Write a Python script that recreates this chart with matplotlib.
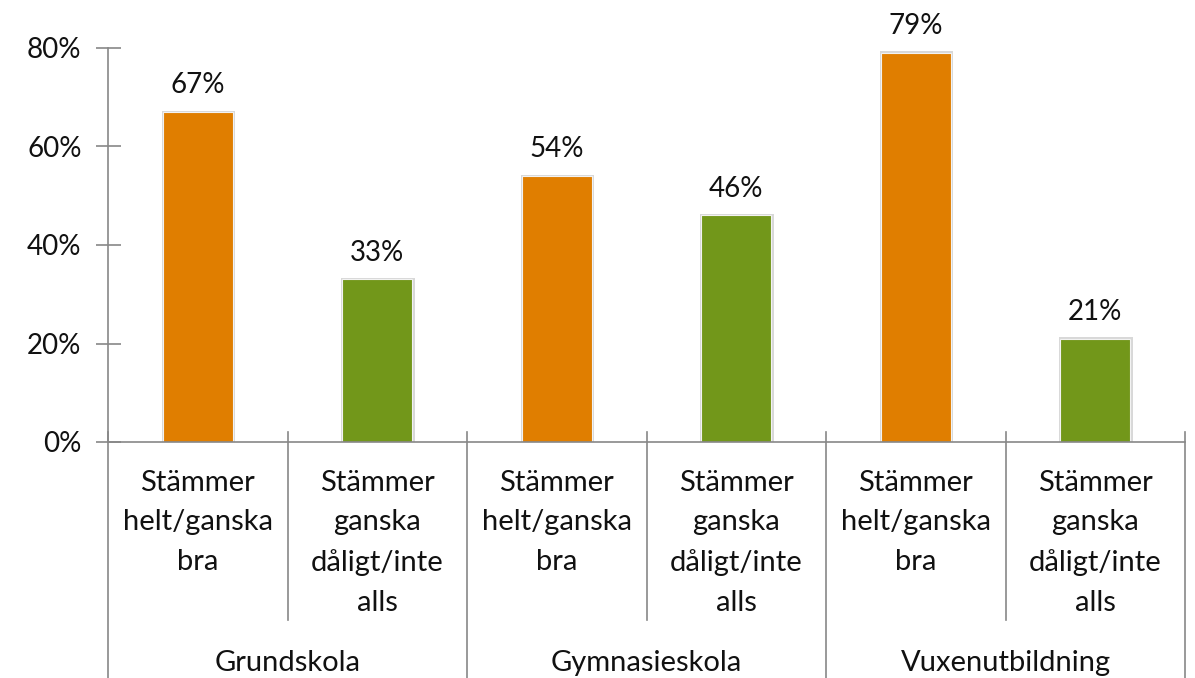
import matplotlib.pyplot as plt
from matplotlib.patches import Rectangle

plt.rcParams['font.family'] = ['Lato', 'DejaVu Sans']

# data
groups = ['Grundskola', 'Gymnasieskola', 'Vuxenutbildning']
answers = ['Stämmer\nhelt/ganska\nbra', 'Stämmer\nganska\ndåligt/inte\nalls']
values = [67, 33, 54, 46, 79, 21]
yticks = [0, 20, 40, 60, 80]
colors = ['#E07E00', '#72971A']
axis_col = '#878787'
fs = 21

fig = plt.figure(figsize=(11.95, 6.78), dpi=100)
W, H = 1195, 678
ax = fig.add_axes([108 / W, (H - 442) / H, (1185 - 108) / W, (442 - 48) / H])

n = len(values)
xs = list(range(n))
bar_colors = [colors[i % 2] for i in xs]

# soft shadow behind bars
for x, v in zip(xs, values):
    ax.add_patch(Rectangle((x - 0.2, 0), 0.41, v + 0.3, color='#d8d8d8', zorder=1, lw=0))
ax.bar(xs, values, width=0.39, color=bar_colors, edgecolor='#f2f2f2', linewidth=0.8, zorder=2)

for x, v in zip(xs, values):
    ax.annotate(f'{v}%', (x, v), xytext=(0, 10), textcoords='offset points',
                ha='center', va='bottom', fontsize=fs - 1, color='#111111')

ax.set_xlim(-0.5, n - 0.5)
ax.set_ylim(0, 80)
ax.set_yticks(yticks)
ax.set_yticklabels([f'{t}%' for t in yticks], fontsize=fs - 1, color='#111111')
ax.tick_params(axis='y', direction='inout', length=18, width=1.2, color=axis_col, pad=10)
ax.set_xticks([])

for s in ['top', 'right']:
    ax.spines[s].set_visible(False)
ax.spines['left'].set_color(axis_col)
ax.spines['left'].set_linewidth(1.2)
ax.spines['bottom'].set_color(axis_col)
ax.spines['bottom'].set_linewidth(1.2)

# multi-level category axis
trans = ax.get_xaxis_transform()
for i in range(n + 1):
    xb = i - 0.5
    if i % 2 == 0:
        y0 = -236 / 394
    else:
        y0 = -178 / 394
    ax.plot([xb, xb], [10 / 394, y0], transform=trans, color=axis_col, lw=1.2,
            clip_on=False, zorder=3)

for i in xs:
    ax.text(i, -28 / 394, answers[i % 2], transform=trans, ha='center', va='top',
            fontsize=fs, linespacing=1.64, color='#111111')

for g, name in enumerate(groups):
    ax.text(2 * g + 0.5, -221 / 394, name, transform=trans, ha='center', va='center',
            fontsize=fs, color='#111111')

fig.savefig('out.png', dpi=100)
